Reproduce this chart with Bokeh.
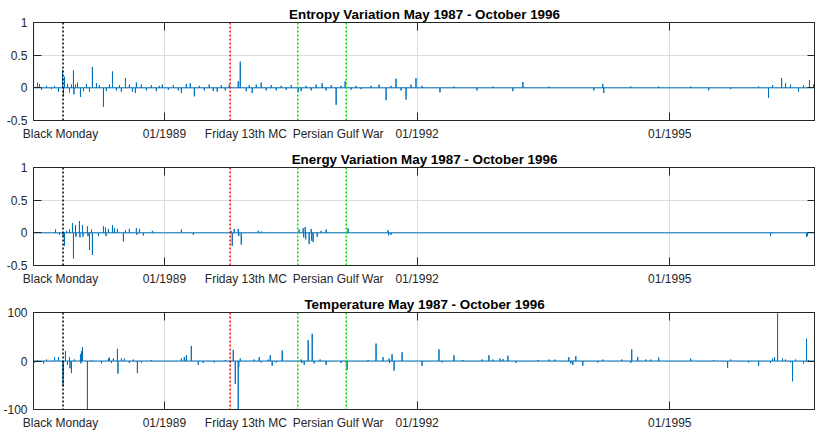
import datetime as dt
from bokeh.plotting import figure
from bokeh.layouts import column
from bokeh.models import Range1d, Span, FixedTicker, LinearAxis, Grid, ColumnDataSource
from bokeh.embed import file_html
from bokeh.resources import INLINE

# ---------------- data ----------------
axis_start = "1987-06-13"
axis_end = "1996-09-24"

tick_dates = ["1987-10-08", "1989-01-01", "1989-12-20", "1991-01-24", "1992-01-01", "1995-01-01"]
tick_labels = ["Black Monday", "01/1989", "Friday 13th MC", "Persian Gulf War", "01/1992", "01/1995"]
grid_dates = ["1989-01-01", "1992-01-01", "1995-01-01"]

event_dates = ["1987-10-19", "1989-10-13", "1990-08-02", "1991-02-28"]
event_colors = ["#000000", "#ff0000", "#00e000", "#00e000"]

titles = ["Entropy Variation May 1987 - October 1996",
          "Energy Variation May 1987 - October 1996",
          "Temperature May 1987 - October 1996"]

# spike times in decimal years (baseline 0 between them)
entropy_t = [1987.447, 1987.494, 1987.518, 1987.542, 1987.601, 1987.660, 1987.696, 1987.743,
             1987.791, 1987.803, 1987.814, 1987.850, 1987.874, 1987.897, 1987.921, 1987.927,
             1987.945, 1987.969, 1988.004, 1988.040, 1988.075, 1988.111, 1988.146, 1988.194,
             1988.229, 1988.277, 1988.312, 1988.348, 1988.384, 1988.431, 1988.467, 1988.490,
             1988.538, 1988.585, 1988.621, 1988.656, 1988.668, 1988.727, 1988.787, 1988.846,
             1988.905, 1988.941, 1988.976, 1989.047, 1989.107, 1989.166, 1989.202, 1989.261,
             1989.308, 1989.356, 1989.415, 1989.474, 1989.533, 1989.581, 1989.628, 1989.676,
             1989.723, 1989.771, 1989.877, 1989.901, 1989.972, 1990.008, 1990.043, 1990.091,
             1990.150, 1990.209, 1990.268, 1990.328, 1990.387, 1990.446, 1990.506, 1990.589,
             1990.624, 1990.683, 1990.743, 1990.802, 1990.873, 1990.920, 1990.980, 1991.039,
             1991.098, 1991.146, 1991.217, 1991.276, 1991.335, 1991.454, 1991.549, 1991.632,
             1991.691, 1991.750, 1991.810, 1991.869, 1991.928, 1991.987, 1992.059, 1992.272,
             1992.438, 1992.711, 1992.900, 1993.137, 1993.256, 1993.564, 1994.098, 1994.204,
             1994.216, 1994.536, 1994.868, 1995.248, 1995.461, 1995.722, 1996.054, 1996.172,
             1996.220, 1996.327, 1996.374, 1996.433, 1996.528, 1996.587, 1996.658, 1996.706]
entropy_v = [1.0, 0.08, 0.06, -0.03, 0.03, -0.02, 0.03, -0.06,
             0.27, -0.13, 0.17, 0.06, -0.07, 0.05, 0.27, -0.10,
             0.05, 0.08, -0.14, -0.05, 0.06, -0.06, 0.32, 0.07,
             0.04, -0.29, -0.05, 0.05, 0.25, -0.04, 0.04, -0.06,
             0.15, 0.05, -0.06, -0.08, 0.08, 0.05, -0.04, 0.04,
             -0.05, 0.03, 0.05, -0.03, 0.04, -0.04, -0.08, 0.06,
             0.07, -0.13, 0.03, -0.04, 0.05, -0.05, -0.06, 0.04,
             -0.04, 0.05, 0.10, 0.40, -0.05, 0.04, -0.08, 0.05,
             0.08, -0.04, 0.04, -0.04, 0.03, -0.03, 0.04, -0.06,
             -0.05, 0.03, -0.04, 0.05, 0.07, -0.04, 0.04, -0.26,
             0.03, 0.10, -0.03, 0.03, -0.02, 0.03, 0.05, -0.19,
             0.03, 0.14, -0.04, -0.18, 0.05, 0.15, 0.03, -0.07,
             0.02, -0.04, 0.02, -0.05, 0.09, 0.02, -0.04, 0.06,
             -0.08, 0.02, 0.02, 0.02, -0.04, -0.02, 0.02, -0.15,
             0.04, 0.15, 0.07, 0.05, -0.06, 0.04, 0.12, 0.05]

energy_t = [1987.708, 1987.755, 1987.797, 1987.814, 1987.838, 1987.874, 1987.909, 1987.921,
            1987.945, 1987.951, 1987.992, 1987.998, 1988.028, 1988.034, 1988.087, 1988.093,
            1988.111, 1988.135, 1988.146, 1988.218, 1988.277, 1988.301, 1988.307, 1988.336,
            1988.384, 1988.407, 1988.443, 1988.514, 1988.538, 1988.585, 1988.668, 1988.674,
            1988.704, 1988.751, 1988.858, 1989.202, 1989.344, 1989.794, 1989.806, 1989.830,
            1989.877, 1989.883, 1989.913, 1990.114, 1990.150, 1990.600, 1990.648, 1990.654,
            1990.672, 1990.678, 1990.719, 1990.743, 1990.749, 1990.766, 1990.814, 1990.861,
            1990.920, 1991.181, 1991.656, 1991.662, 1991.691, 1996.196, 1996.220, 1996.623,
            1996.635]
energy_v = [0.05, -0.03, -0.05, -0.20, 0.03, 0.05, 0.15, -0.39,
            0.12, -0.06, 0.18, -0.07, 0.12, -0.06, 0.10, -0.05,
            -0.26, 0.05, -0.34, -0.05, 0.10, 0.08, -0.05, 0.06,
            0.12, 0.07, 0.06, -0.13, 0.04, 0.06, 0.07, -0.03,
            0.06, -0.04, 0.03, 0.05, -0.03, 0.03, -0.20, 0.06,
            0.06, -0.05, -0.18, 0.03, 0.02, 0.05, 0.07, -0.07,
            0.09, -0.10, -0.17, 0.06, -0.12, -0.14, -0.06, 0.03,
            0.05, 0.07, 0.04, -0.04, -0.03, -0.05, 0.01, -0.06,
            -0.05]

temp_t = [1987.459, 1987.494, 1987.542, 1987.566, 1987.601, 1987.696, 1987.743, 1987.797,
          1987.803, 1987.826, 1987.850, 1987.874, 1987.880, 1987.897, 1987.933, 1988.004,
          1988.010, 1988.016, 1988.028, 1988.087, 1988.135, 1988.253, 1988.336, 1988.348,
          1988.372, 1988.395, 1988.443, 1988.449, 1988.490, 1988.526, 1988.585, 1988.632,
          1988.680, 1988.727, 1988.846, 1989.202, 1989.237, 1989.261, 1989.320, 1989.403,
          1989.462, 1989.593, 1989.723, 1989.782, 1989.818, 1989.842, 1989.877, 1989.883,
          1989.901, 1990.067, 1990.126, 1990.150, 1990.233, 1990.257, 1990.280, 1990.328,
          1990.399, 1990.624, 1990.630, 1990.660, 1990.707, 1990.755, 1990.778, 1990.849,
          1990.920, 1991.098, 1991.158, 1991.169, 1991.418, 1991.513, 1991.596, 1991.667,
          1991.673, 1991.703, 1991.727, 1991.822, 1992.059, 1992.260, 1992.296, 1992.438,
          1992.545, 1992.770, 1992.853, 1992.900, 1992.983, 1993.019, 1993.078, 1993.173,
          1993.434, 1993.564, 1993.635, 1993.801, 1993.825, 1993.849, 1993.884, 1993.967,
          1994.145, 1994.204, 1994.430, 1994.536, 1994.548, 1994.619, 1994.714, 1994.773,
          1994.868, 1995.248, 1995.520, 1995.686, 1995.722, 1995.935, 1996.054, 1996.196,
          1996.220, 1996.243, 1996.279, 1996.338, 1996.374, 1996.433, 1996.457, 1996.492,
          1996.587, 1996.623, 1996.647]
temp_v = [-3, 2, -2, -5, 3, 8, 8, -52,
          -30, 20, -8, 8, -15, -25, 3, 14,
          -5, 20, 28, -100, 2, -5, 5, 7,
          -4, 5, 25, -26, 5, 5, -4, 3,
          -25, -3, 2, 5, 8, 12, 31, -8,
          -4, -3, 2, -3, 23, -47, -100, -12,
          5, 3, 8, -3, 3, 12, -10, -3,
          22, 3, -4, -8, 43, 56, -5, 3,
          -8, -4, -3, -18, 2, 36, 8, 5,
          -4, 14, -20, 18, -10, 24, -3, 12,
          2, 3, 12, 3, 5, 4, 11, -4,
          2, 3, 3, 8, -5, -8, 10, -10,
          -3, 3, 3, -4, 24, 8, 3, 3,
          7, 5, 2, -14, 3, -3, -10, -4,
          5, 8, 98, 5, 3, -3, -42, 3,
          -5, 46, 2]

y_ticks_a = [-0.5, 0, 0.5, 1]
y_labels_a = ["-0.5", "0", "0.5", "1"]
y_ticks_t = [-100, 0, 100]
y_labels_t = ["-100", "0", "100"]


# ---------------- helpers ----------------
def dec_year(s):
    d = dt.date.fromisoformat(s)
    start = dt.date(d.year, 1, 1)
    n = (dt.date(d.year + 1, 1, 1) - start).days
    return d.year + (d - start).days / n


x0, x1 = dec_year(axis_start), dec_year(axis_end)
tick_pos = [dec_year(s) for s in tick_dates]
grid_pos = [dec_year(s) for s in grid_dates]
event_pos = [dec_year(s) for s in event_dates]

AX = "#262626"
FONT = "Liberation Sans"
BLUE = "#0072BD"


def spike_path(t, v):
    xs, ys = [x0], [0]
    for ti, vi in zip(t, v):
        xs += [ti, ti, ti]
        ys += [0, vi, 0]
    xs.append(x1)
    ys.append(0)
    return xs, ys


def panel(title, t, v, yr, yt, yl, height, top, bottom):
    p = figure(width=815, height=height, output_backend="svg", toolbar_location=None,
               x_range=Range1d(x0, x1), y_range=Range1d(*yr),
               x_axis_type=None, y_axis_type=None,
               min_border_left=32, min_border_right=0,
               min_border_top=top, min_border_bottom=bottom)
    p.background_fill_color = "white"
    p.border_fill_color = "white"
    p.outline_line_color = AX
    p.outline_line_width = 1

    p.title.text = title
    p.title.align = "center"
    p.title.text_font = FONT
    p.title.text_font_size = "13.4px"
    p.title.text_font_style = "bold"
    p.title.text_color = "#000000"
    p.title.standoff = 2

    # grids
    p.add_layout(Grid(dimension=0, ticker=FixedTicker(ticks=grid_pos),
                      grid_line_color="#dcdcdc", grid_line_width=1))
    p.add_layout(Grid(dimension=1, ticker=FixedTicker(ticks=yt),
                      grid_line_color="#dcdcdc", grid_line_width=1))

    # bottom axis: labels at their own positions, tick marks only at years
    xb = LinearAxis(ticker=FixedTicker(ticks=tick_pos, minor_ticks=grid_pos),
                    major_label_overrides=dict(zip(tick_pos, tick_labels)),
                    major_tick_line_color=None, major_tick_in=0, major_tick_out=0,
                    minor_tick_in=8, minor_tick_out=0, minor_tick_line_color=AX,
                    axis_line_color=AX, axis_label_standoff=0,
                    major_label_text_font=FONT, major_label_text_font_size="12px",
                    major_label_text_color=AX, major_label_standoff=6)
    p.add_layout(xb, "below")
    # mirrored tick marks (minor ticks only, no labels)
    xa = LinearAxis(ticker=FixedTicker(ticks=[], minor_ticks=grid_pos),
                    major_tick_line_color=None, major_tick_in=0, major_tick_out=0,
                    minor_tick_in=8, minor_tick_out=0, minor_tick_line_color=AX,
                    axis_line_color=AX, axis_label_standoff=0,
                    major_label_standoff=0)
    p.add_layout(xa, "above")

    yl_ax = LinearAxis(ticker=FixedTicker(ticks=yt),
                       major_label_overrides=dict(zip(yt, yl)),
                       major_tick_in=8, major_tick_out=0, major_tick_line_color=AX,
                       minor_tick_line_color=None, axis_line_color=AX,
                       axis_label_standoff=0,
                       major_label_text_font=FONT, major_label_text_font_size="12px",
                       major_label_text_color=AX, major_label_standoff=6)
    p.add_layout(yl_ax, "left")
    yr_ax = LinearAxis(ticker=FixedTicker(ticks=[], minor_ticks=yt),
                       major_tick_line_color=None, major_tick_in=0, major_tick_out=0,
                       minor_tick_in=8, minor_tick_out=0, minor_tick_line_color=AX,
                       axis_line_color=AX, axis_label_standoff=0,
                       major_label_standoff=0)
    p.add_layout(yr_ax, "right")

    xs, ys = spike_path(t, v)
    p.line(x="x", y="y", source=ColumnDataSource(dict(x=xs, y=ys)),
           line_color=BLUE, line_width=1)

    for loc, c in zip(event_pos, event_colors):
        p.add_layout(Span(location=loc, dimension="height", line_color=c,
                          line_width=1.5, line_dash="2 2"))
    return p


p1 = panel(titles[0], entropy_t, entropy_v, (-0.5, 1), y_ticks_a, y_labels_a, 145, 22, 25)
p2 = panel(titles[1], energy_t, energy_v, (-0.5, 1), y_ticks_a, y_labels_a, 146, 22, 26)
p3 = panel(titles[2], temp_t, temp_v, (-100, 100), y_ticks_t, y_labels_t, 141, 21, 22)

layout = column(p1, p2, p3, spacing=0)
open("out.html", "w").write(file_html(layout, INLINE))
